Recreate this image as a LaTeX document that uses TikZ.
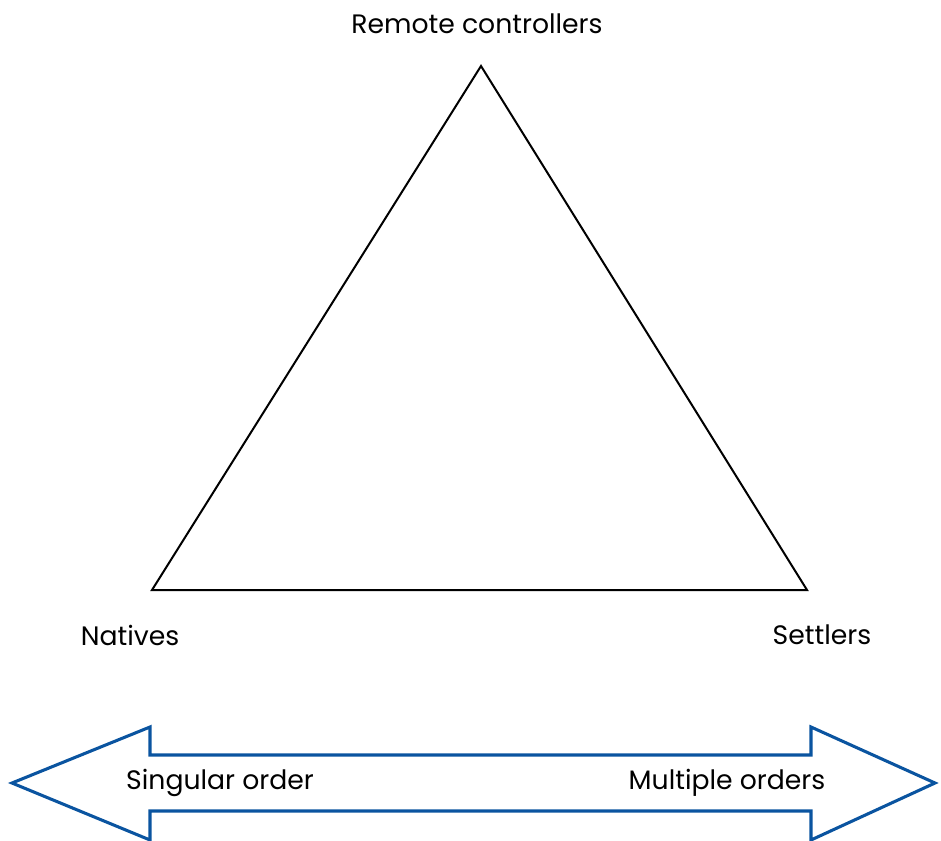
\documentclass[tikz,border=0pt]{standalone}
\usepackage{fontspec}
\setmainfont{Poppins}
\definecolor{arrowblue}{RGB}{10,84,160}
\begin{document}
\begin{tikzpicture}[x=0.75pt,y=-0.75pt,lab/.style={font=\fontsize{20}{24}\selectfont}]
				\useasboundingbox (0,0) rectangle (941,841);
				\coordinate (top) at (481,66);
				\coordinate (nat) at (152,590);
				\coordinate (set) at (807,590);
				\draw[line width=1.5pt,line join=miter] (top)--(nat)--(set)--cycle;
				\node[lab] (rc) at (477,24) {Remote controllers};
				\node[lab] (natl) at (130,635) {Natives};
				\node[lab] (setl) at (822,635) {Settlers};
				\draw[arrowblue,line width=2.3pt,line join=miter] (12,783)--(150,727)--(150,755)--(811,755)--(811,727)--(935,783)--(811,840)--(811,811)--(150,811)--(150,840)--cycle;
				\node[lab] (sing) at (220,783) {Singular order};
				\node[lab] (mult) at (727,783) {Multiple orders};
			\end{tikzpicture}
\end{document}
